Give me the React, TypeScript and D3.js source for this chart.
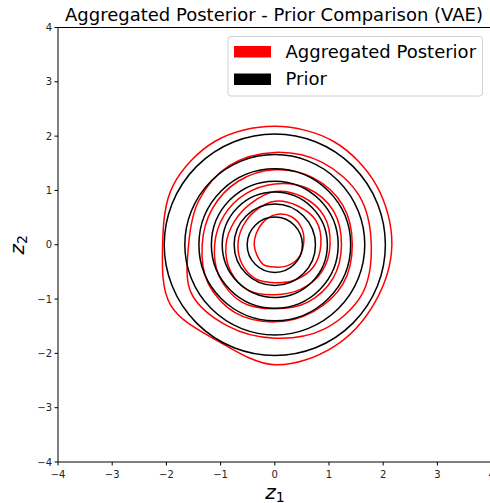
import React from 'react';
import * as d3 from 'd3';

// axis ticks
const xTicks = [-4, -3, -2, -1, 0, 1, 2, 3, 4];
const yTicks = [-4, -3, -2, -1, 0, 1, 2, 3, 4];

// prior (standard normal) contour radii, levels 0.14 .. 0.02
const priorRadii = [0.51, 0.75, 0.97, 1.17, 1.4, 1.66, 2.04];

// aggregated posterior contours, radius read at each angle (degrees)
const postAngles = [0, 30, 60, 90, 120, 150, 180, 210, 240, 270, 300, 330];
const post014 = [0.53, 0.58, 0.6, 0.55, 0.46, 0.4, 0.38, 0.38, 0.42, 0.41, 0.45, 0.5];
const post012 = [0.85, 0.88, 0.83, 0.8, 0.72, 0.68, 0.68, 0.7, 0.72, 0.7, 0.75, 0.82];
const post010 = [1.02, 1.05, 1.02, 0.98, 0.88, 0.86, 0.9, 0.95, 0.97, 0.92, 0.95, 1.0];
const post008 = [1.23, 1.25, 1.2, 1.12, 1.08, 1.08, 1.11, 1.18, 1.22, 1.18, 1.22, 1.24];
const post006 = [1.43, 1.45, 1.42, 1.38, 1.35, 1.33, 1.34, 1.42, 1.45, 1.42, 1.42, 1.45];
const post004 = [1.78, 1.8, 1.75, 1.7, 1.68, 1.62, 1.59, 1.78, 1.73, 1.72, 1.8, 1.85];
const post002 = [2.16, 2.17, 2.19, 2.18, 2.2, 2.17, 2.07, 2.22, 2.06, 2.21, 2.17, 2.13];
const posteriorLevels = [post014, post012, post010, post008, post006, post004, post002];

const legendItems = [
  { label: 'Aggregated Posterior', color: '#ff0000' },
  { label: 'Prior', color: '#000000' },
];

const W = 490;
const H = 503;
const font = 'DejaVu Sans, sans-serif';

export default function App() {
  const x = d3.scaleLinear().domain([-4, 4]).range([58, 491.6]);
  const y = d3.scaleLinear().domain([-4, 4]).range([462, 27.5]);

  const line = d3
    .line<[number, number]>()
    .x(d => x(d[1] * Math.cos((d[0] * Math.PI) / 180)))
    .y(d => y(d[1] * Math.sin((d[0] * Math.PI) / 180)))
    .curve(d3.curveCatmullRomClosed.alpha(0.5));

  return (
    <svg
      width={W}
      height={H}
      style={{ position: 'absolute', left: 0, top: 0, background: '#fff' }}
      fontFamily={font}
    >
      <rect width={W} height={H} fill="#fff" />

      {/* posterior contours */}
      <g fill="none" stroke="#ff0000" strokeWidth={1.5}>
        {posteriorLevels.map((radii, i) => (
          <path key={i} d={line(postAngles.map((a, j) => [a, radii[j]] as [number, number])) || ''} />
        ))}
      </g>

      {/* prior contours */}
      <g fill="none" stroke="#000" strokeWidth={1.5}>
        {priorRadii.map((r, i) => (
          <ellipse key={i} cx={x(0)} cy={y(0)} rx={x(r) - x(0)} ry={y(0) - y(r)} />
        ))}
      </g>

      {/* spines */}
      <g stroke="#000" strokeWidth={1}>
        <line x1={x(-4)} x2={x(-4)} y1={y(4)} y2={y(-4)} />
        <line x1={x(-4)} x2={x(4)} y1={y(-4)} y2={y(-4)} />
        <line x1={x(-4)} x2={x(4)} y1={y(4)} y2={y(4)} />
        <line x1={x(4)} x2={x(4)} y1={y(4)} y2={y(-4)} />
      </g>

      {/* x ticks */}
      <g fontSize={10} fill="#222">
        {xTicks.map(t => (
          <g key={t}>
            <line x1={x(t)} x2={x(t)} y1={y(-4)} y2={y(-4) + 3.5} stroke="#000" />
            <text x={x(t)} y={478} textAnchor="middle">
              {t < 0 ? '\u2212' + Math.abs(t) : t}
            </text>
          </g>
        ))}
      </g>

      {/* y ticks */}
      <g fontSize={10} fill="#222">
        {yTicks.map(t => (
          <g key={t}>
            <line x1={x(-4) - 3.5} x2={x(-4)} y1={y(t)} y2={y(t)} stroke="#000" />
            <text x={x(-4) - 6} y={y(t) + 3.5} textAnchor="end">
              {t < 0 ? '\u2212' + Math.abs(t) : t}
            </text>
          </g>
        ))}
      </g>

      {/* title */}
      <text x={274} y={20.7} textAnchor="middle" fontSize={18} fill="#000">
        Aggregated Posterior - Prior Comparison (VAE)
      </text>

      {/* axis labels */}
      <text x={275} y={499} textAnchor="middle" fontSize={20} fill="#000">
        <tspan fontStyle="italic">z</tspan>
        <tspan fontSize={14} dy={3}>1</tspan>
      </text>
      <text
        transform={`translate(24, ${y(0)}) rotate(-90)`}
        textAnchor="middle"
        fontSize={20}
        fill="#000"
      >
        <tspan fontStyle="italic">z</tspan>
        <tspan fontSize={14} dy={3}>2</tspan>
      </text>

      {/* legend */}
      <g>
        <rect x={228} y={36.5} width={254.5} height={59.5} rx={3} fill="#fff" fillOpacity={0.8} stroke="#d0d0d0" />
        {legendItems.map((it, i) => (
          <g key={it.label} transform={`translate(0, ${i * 27.5})`}>
            <rect x={234} y={46} width={37} height={11.5} fill={it.color} />
            <text x={285.5} y={57.5} fontSize={18} fill="#000">
              {it.label}
            </text>
          </g>
        ))}
      </g>
    </svg>
  );
}
